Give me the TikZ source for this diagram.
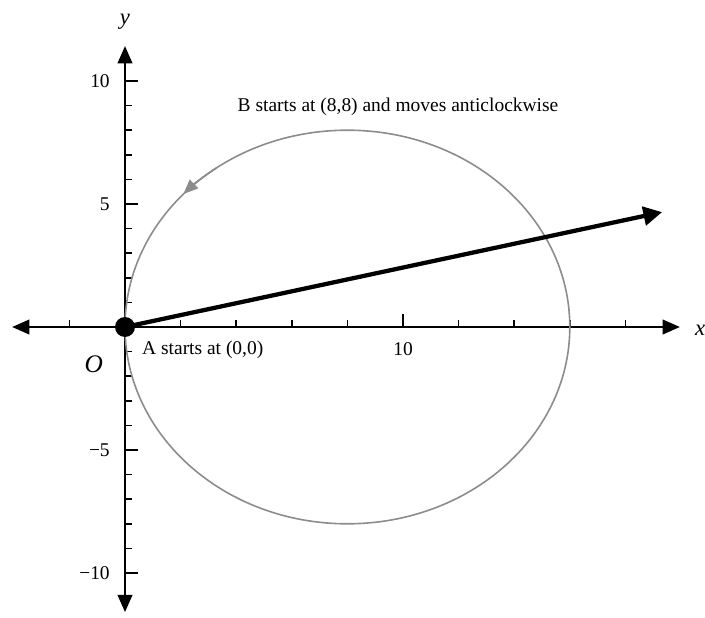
\documentclass[tikz,border=0pt]{standalone}
\usepackage{fontspec}
\setmainfont{Liberation Serif}
\usetikzlibrary{arrows.meta,calc}
\begin{document}
\begin{tikzpicture}[x=20.85pt,y=18.45pt,
  font=\fontsize{14.6}{17}\selectfont,
  axis/.style={line width=1.6pt, {Triangle[length=13pt,width=11pt]}-{Triangle[length=13pt,width=11pt]}},
  tickmark/.style={line width=1.3pt},
  lbl/.style={inner sep=0pt},
  orbit/.style={draw=black!45, line width=1.2pt},
  dot/.style={circle, fill=black, minimum size=15pt, inner sep=0pt},
  vec/.style={line width=3.2pt, -{Triangle[length=14pt,width=14pt]}}]
\useasboundingbox (-93.75pt,-217.5pt) rectangle (435pt,245.25pt);
% axes
\coordinate (xl) at (-4.06,0);
\coordinate (xr) at (19.96,0);
\coordinate (yb) at (0,-11.59);
\coordinate (yt) at (0,11.42);
\draw[axis] (xl) -- (xr);
\draw[axis] (yb) -- (yt);
% ticks
\foreach \i in {-2,2,4,6,8,12,14,16,18}
  \draw[tickmark] (\i,0) -- ++(0,5.5pt);
\draw[tickmark] (10,0) -- ++(0,10pt);
\foreach \j in {-9,-8,-7,-6,-4,-3,-2,-1,1,2,3,4,6,7,8,9}
  \draw[tickmark] (0,\j) -- ++(5pt,0);
\foreach \j in {-10,-5,5,10}
  \draw[tickmark] (0,\j) -- ++(10pt,0);
% tick labels
\node[lbl, anchor=east] (t10) at (-0.54,10) {10};
\node[lbl, anchor=east] (t5) at (-0.54,5) {5};
\node[lbl, anchor=east] (tm5) at (-0.54,-5) {−5};
\node[lbl, anchor=east] (tm10) at (-0.54,-10) {−10};
\node[lbl] (x10) at (10,-0.9) {10};
% axis labels
\node[lbl, font=\fontsize{17}{20}\selectfont\itshape] (ylab) at (0,12.4) {y};
\node[lbl, anchor=west, font=\fontsize{17}{20}\selectfont\itshape] (xlab) at (20.5,-0.12) {x};
\node[lbl, font=\fontsize{19}{22}\selectfont\itshape] (olab) at (-1.12,-1.5) {O};
% orbit
\coordinate (c) at (8,0);
\draw[orbit] (c) ellipse [x radius=166.8pt, y radius=147.6pt];
\draw[orbit, -{Triangle[length=11pt,width=9pt]}]
  ($(c)+(126:166.8pt and 147.6pt)$) arc [start angle=126, end angle=137.5, x radius=166.8pt, y radius=147.6pt];
% vector and origin
\coordinate (v) at (19.32,4.67);
\node[dot] (o) at (0,0) {};
\draw[vec] (o.center) -- (v);
% texts
\node[lbl, anchor=west] (a) at (0.61,-0.93) {A starts at (0,0)};
\node[lbl] (b) at (9.82,8.94) {B starts at (8,8) and moves anticlockwise};
\end{tikzpicture}
\end{document}
